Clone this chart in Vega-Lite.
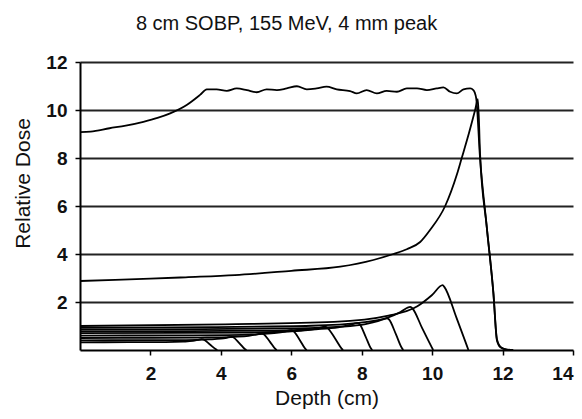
{
  "$schema": "https://vega.github.io/schema/vega-lite/v6.json",
  "width": 493,
  "height": 288,
  "autosize": {"type": "none"},
  "padding": {"left": 80, "top": 62, "right": 9, "bottom": 69},
  "background": "white",
  "title": {"text": "8 cm SOBP, 155 MeV, 4 mm peak", "font": "Liberation Sans", "fontSize": 20, "fontWeight": "normal", "color": "#111", "anchor": "middle", "dx": -40, "offset": 19},
  "config": {"view": {"stroke": null}},
  "data": {"values": [
    {"curve": "SOBP", "depth": 0, "dose": 9.08},
    {"curve": "SOBP", "depth": 0.3, "dose": 9.1},
    {"curve": "SOBP", "depth": 0.84, "dose": 9.24},
    {"curve": "SOBP", "depth": 1.3, "dose": 9.35},
    {"curve": "SOBP", "depth": 1.8, "dose": 9.51},
    {"curve": "SOBP", "depth": 2.2, "dose": 9.67},
    {"curve": "SOBP", "depth": 2.56, "dose": 9.86},
    {"curve": "SOBP", "depth": 3.03, "dose": 10.21},
    {"curve": "SOBP", "depth": 3.41, "dose": 10.63},
    {"curve": "SOBP", "depth": 3.6, "dose": 10.86},
    {"curve": "SOBP", "depth": 3.88, "dose": 10.86},
    {"curve": "SOBP", "depth": 4.17, "dose": 10.8},
    {"curve": "SOBP", "depth": 4.45, "dose": 10.9},
    {"curve": "SOBP", "depth": 4.74, "dose": 10.83},
    {"curve": "SOBP", "depth": 5.02, "dose": 10.74},
    {"curve": "SOBP", "depth": 5.3, "dose": 10.86},
    {"curve": "SOBP", "depth": 5.59, "dose": 10.83},
    {"curve": "SOBP", "depth": 5.87, "dose": 10.9},
    {"curve": "SOBP", "depth": 6.16, "dose": 10.99},
    {"curve": "SOBP", "depth": 6.44, "dose": 10.86},
    {"curve": "SOBP", "depth": 6.72, "dose": 10.9},
    {"curve": "SOBP", "depth": 7.0, "dose": 10.97},
    {"curve": "SOBP", "depth": 7.29, "dose": 10.86},
    {"curve": "SOBP", "depth": 7.67, "dose": 10.79},
    {"curve": "SOBP", "depth": 7.86, "dose": 10.69},
    {"curve": "SOBP", "depth": 8.14, "dose": 10.83},
    {"curve": "SOBP", "depth": 8.43, "dose": 10.69},
    {"curve": "SOBP", "depth": 8.71, "dose": 10.8},
    {"curve": "SOBP", "depth": 9.0, "dose": 10.76},
    {"curve": "SOBP", "depth": 9.28, "dose": 10.9},
    {"curve": "SOBP", "depth": 9.57, "dose": 10.9},
    {"curve": "SOBP", "depth": 9.85, "dose": 10.83},
    {"curve": "SOBP", "depth": 10.13, "dose": 10.9},
    {"curve": "SOBP", "depth": 10.32, "dose": 10.94},
    {"curve": "SOBP", "depth": 10.51, "dose": 10.76},
    {"curve": "SOBP", "depth": 10.7, "dose": 10.69},
    {"curve": "SOBP", "depth": 10.89, "dose": 10.86},
    {"curve": "SOBP", "depth": 11.08, "dose": 10.9},
    {"curve": "SOBP", "depth": 11.17, "dose": 10.83},
    {"curve": "SOBP", "depth": 11.25, "dose": 10.5},
    {"curve": "SOBP", "depth": 11.36, "dose": 8.0},
    {"curve": "SOBP", "depth": 11.55, "dose": 5.14},
    {"curve": "SOBP", "depth": 11.74, "dose": 2.36},
    {"curve": "SOBP", "depth": 11.84, "dose": 0.45},
    {"curve": "SOBP", "depth": 11.95, "dose": 0.12},
    {"curve": "SOBP", "depth": 12.1, "dose": 0.03},
    {"curve": "SOBP", "depth": 12.3, "dose": 0},
    {"curve": "P0", "depth": 0, "dose": 2.875},
    {"curve": "P0", "depth": 1, "dose": 2.92},
    {"curve": "P0", "depth": 2, "dose": 2.97},
    {"curve": "P0", "depth": 3, "dose": 3.03},
    {"curve": "P0", "depth": 4.4, "dose": 3.12},
    {"curve": "P0", "depth": 6, "dose": 3.3},
    {"curve": "P0", "depth": 7.39, "dose": 3.47},
    {"curve": "P0", "depth": 8.33, "dose": 3.75},
    {"curve": "P0", "depth": 8.9, "dose": 4.0},
    {"curve": "P0", "depth": 9.28, "dose": 4.2},
    {"curve": "P0", "depth": 9.66, "dose": 4.5},
    {"curve": "P0", "depth": 9.94, "dose": 5.0},
    {"curve": "P0", "depth": 10.37, "dose": 6.0},
    {"curve": "P0", "depth": 10.7, "dose": 7.3},
    {"curve": "P0", "depth": 10.84, "dose": 8.0},
    {"curve": "P0", "depth": 11.0, "dose": 8.8},
    {"curve": "P0", "depth": 11.22, "dose": 10.0},
    {"curve": "P0", "depth": 11.3, "dose": 10.45},
    {"curve": "P0", "depth": 11.36, "dose": 8.2},
    {"curve": "P0", "depth": 11.55, "dose": 5.14},
    {"curve": "P0", "depth": 11.74, "dose": 2.36},
    {"curve": "P0", "depth": 11.84, "dose": 0.4},
    {"curve": "P0", "depth": 11.95, "dose": 0.1},
    {"curve": "P0", "depth": 12.1, "dose": 0.02},
    {"curve": "P0", "depth": 12.3, "dose": 0},
    {"curve": "A", "depth": 0, "dose": 1.0},
    {"curve": "A", "depth": 4.12, "dose": 1.07},
    {"curve": "A", "depth": 7.21, "dose": 1.17},
    {"curve": "A", "depth": 8.76, "dose": 1.43},
    {"curve": "A", "depth": 9.58, "dose": 1.82},
    {"curve": "A", "depth": 9.99, "dose": 2.28},
    {"curve": "A", "depth": 10.3, "dose": 2.7},
    {"curve": "A", "depth": 10.35, "dose": 2.62},
    {"curve": "A", "depth": 10.69, "dose": 1.35},
    {"curve": "A", "depth": 10.99, "dose": 0.16},
    {"curve": "A", "depth": 11.03, "dose": 0},
    {"curve": "B", "depth": 0, "dose": 0.92},
    {"curve": "B", "depth": 3.75, "dose": 0.955},
    {"curve": "B", "depth": 6.57, "dose": 1.01},
    {"curve": "B", "depth": 7.97, "dose": 1.14},
    {"curve": "B", "depth": 8.72, "dose": 1.34},
    {"curve": "B", "depth": 9.1, "dose": 1.58},
    {"curve": "B", "depth": 9.38, "dose": 1.8},
    {"curve": "B", "depth": 9.43, "dose": 1.75},
    {"curve": "B", "depth": 9.72, "dose": 0.9},
    {"curve": "B", "depth": 9.99, "dose": 0.11},
    {"curve": "B", "depth": 10.03, "dose": 0},
    {"curve": "C", "depth": 0, "dose": 0.85},
    {"curve": "C", "depth": 3.49, "dose": 0.87},
    {"curve": "C", "depth": 6.1, "dose": 0.9},
    {"curve": "C", "depth": 7.41, "dose": 0.97},
    {"curve": "C", "depth": 8.11, "dose": 1.08},
    {"curve": "C", "depth": 8.46, "dose": 1.2},
    {"curve": "C", "depth": 8.72, "dose": 1.32},
    {"curve": "C", "depth": 8.77, "dose": 1.28},
    {"curve": "C", "depth": 8.97, "dose": 0.66},
    {"curve": "C", "depth": 9.14, "dose": 0.08},
    {"curve": "C", "depth": 9.18, "dose": 0},
    {"curve": "D", "depth": 0, "dose": 0.78},
    {"curve": "D", "depth": 3.15, "dose": 0.79},
    {"curve": "D", "depth": 5.52, "dose": 0.81},
    {"curve": "D", "depth": 6.7, "dose": 0.865},
    {"curve": "D", "depth": 7.33, "dose": 0.94},
    {"curve": "D", "depth": 7.64, "dose": 1.035},
    {"curve": "D", "depth": 7.88, "dose": 1.12},
    {"curve": "D", "depth": 7.93, "dose": 1.09},
    {"curve": "D", "depth": 8.11, "dose": 0.56},
    {"curve": "D", "depth": 8.26, "dose": 0.07},
    {"curve": "D", "depth": 8.3, "dose": 0},
    {"curve": "E", "depth": 0, "dose": 0.7},
    {"curve": "E", "depth": 2.78, "dose": 0.71},
    {"curve": "E", "depth": 4.87, "dose": 0.73},
    {"curve": "E", "depth": 5.92, "dose": 0.77},
    {"curve": "E", "depth": 6.47, "dose": 0.83},
    {"curve": "E", "depth": 6.75, "dose": 0.9},
    {"curve": "E", "depth": 6.96, "dose": 0.97},
    {"curve": "E", "depth": 7.01, "dose": 0.94},
    {"curve": "E", "depth": 7.24, "dose": 0.49},
    {"curve": "E", "depth": 7.43, "dose": 0.06},
    {"curve": "E", "depth": 7.47, "dose": 0},
    {"curve": "F", "depth": 0, "dose": 0.6},
    {"curve": "F", "depth": 2.4, "dose": 0.61},
    {"curve": "F", "depth": 4.2, "dose": 0.62},
    {"curve": "F", "depth": 5.1, "dose": 0.66},
    {"curve": "F", "depth": 5.58, "dose": 0.71},
    {"curve": "F", "depth": 5.82, "dose": 0.77},
    {"curve": "F", "depth": 6.0, "dose": 0.83},
    {"curve": "F", "depth": 6.05, "dose": 0.8},
    {"curve": "F", "depth": 6.24, "dose": 0.42},
    {"curve": "F", "depth": 6.4, "dose": 0.05},
    {"curve": "F", "depth": 6.44, "dose": 0},
    {"curve": "G", "depth": 0, "dose": 0.5},
    {"curve": "G", "depth": 2.06, "dose": 0.51},
    {"curve": "G", "depth": 3.6, "dose": 0.52},
    {"curve": "G", "depth": 4.38, "dose": 0.55},
    {"curve": "G", "depth": 4.79, "dose": 0.59},
    {"curve": "G", "depth": 5.0, "dose": 0.64},
    {"curve": "G", "depth": 5.15, "dose": 0.69},
    {"curve": "G", "depth": 5.2, "dose": 0.67},
    {"curve": "G", "depth": 5.39, "dose": 0.35},
    {"curve": "G", "depth": 5.55, "dose": 0.04},
    {"curve": "G", "depth": 5.59, "dose": 0},
    {"curve": "H", "depth": 0, "dose": 0.4},
    {"curve": "H", "depth": 1.72, "dose": 0.41},
    {"curve": "H", "depth": 3.01, "dose": 0.415},
    {"curve": "H", "depth": 3.66, "dose": 0.44},
    {"curve": "H", "depth": 4.0, "dose": 0.47},
    {"curve": "H", "depth": 4.17, "dose": 0.51},
    {"curve": "H", "depth": 4.3, "dose": 0.55},
    {"curve": "H", "depth": 4.35, "dose": 0.53},
    {"curve": "H", "depth": 4.53, "dose": 0.28},
    {"curve": "H", "depth": 4.69, "dose": 0.03},
    {"curve": "H", "depth": 4.73, "dose": 0},
    {"curve": "I", "depth": 0, "dose": 0.32},
    {"curve": "I", "depth": 1.38, "dose": 0.325},
    {"curve": "I", "depth": 2.42, "dose": 0.33},
    {"curve": "I", "depth": 2.93, "dose": 0.35},
    {"curve": "I", "depth": 3.21, "dose": 0.38},
    {"curve": "I", "depth": 3.35, "dose": 0.42},
    {"curve": "I", "depth": 3.45, "dose": 0.45},
    {"curve": "I", "depth": 3.5, "dose": 0.44},
    {"curve": "I", "depth": 3.69, "dose": 0.23},
    {"curve": "I", "depth": 3.86, "dose": 0.03},
    {"curve": "I", "depth": 3.9, "dose": 0}
  ]},
  "mark": {"type": "line", "interpolate": "monotone", "color": "black", "strokeWidth": 1.8, "clip": true},
  "encoding": {
    "x": {
      "field": "depth", "type": "quantitative",
      "scale": {"domain": [0, 14], "nice": false, "zero": false},
      "axis": {
        "values": [2, 4, 6, 8, 10, 12, 14], "format": "d", "grid": false,
        "domainColor": "black", "domainWidth": 2,
        "tickColor": "black", "tickSize": 5, "tickWidth": 1.5,
        "labelFont": "Liberation Sans", "labelFontSize": 19, "labelFontWeight": "bold", "labelColor": "#111", "labelPadding": 9,
        "title": "Depth (cm)", "titleFont": "Liberation Sans", "titleFontSize": 21, "titleFontWeight": "normal", "titleColor": "#111", "titlePadding": 4
      }
    },
    "y": {
      "field": "dose", "type": "quantitative",
      "scale": {"domain": [0, 12], "nice": false},
      "axis": {
        "values": [2, 4, 6, 8, 10, 12], "format": "d",
        "grid": true, "gridColor": "#222", "gridWidth": 2, "gridOpacity": 1,
        "domainColor": "black", "domainWidth": 2,
        "tickColor": "black", "tickSize": 5, "tickWidth": 1.5,
        "labelFont": "Liberation Sans", "labelFontSize": 19, "labelFontWeight": "bold", "labelColor": "#111", "labelPadding": 8,
        "title": "Relative Dose", "titleFont": "Liberation Sans", "titleFontSize": 21, "titleFontWeight": "normal", "titleColor": "#111", "titlePadding": 12, "titleY": 121
      }
    },
    "detail": {"field": "curve", "type": "nominal"}
  }
}
